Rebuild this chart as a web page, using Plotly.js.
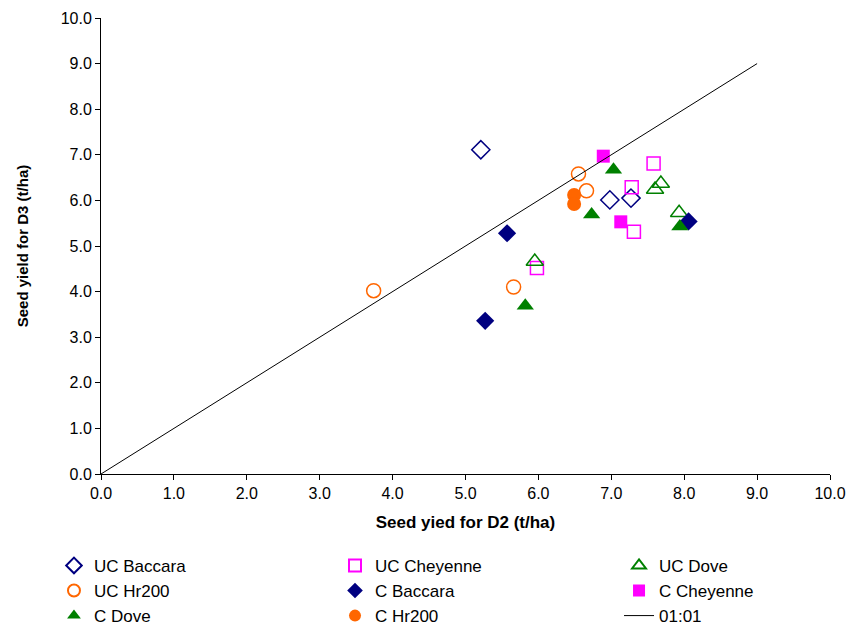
<!DOCTYPE html>
<html>
<head>
<meta charset="utf-8">
<script src="https://cdn.plot.ly/plotly-3.0.1.min.js"></script>
<style>html,body{margin:0;padding:0;background:#fff;}#chart{width:853px;height:626px;}</style>
</head>
<body>
<div id="chart"></div>
<script>
// Data (D2 yield, D3 yield in t/ha)
const ucBaccaraX = [5.21, 6.98, 7.27];
const ucBaccaraY = [7.11, 6.01, 6.05];
const ucCheyenneX = [7.58, 7.28, 7.31, 5.98];
const ucCheyenneY = [6.81, 6.29, 5.31, 4.52];
const ucDoveX = [7.68, 7.60, 7.93, 5.95];
const ucDoveY = [6.37, 6.24, 5.73, 4.66];
const ucHr200X = [3.74, 5.66, 6.55, 6.66];
const ucHr200Y = [4.02, 4.10, 6.58, 6.21];
const cBaccaraX = [5.57, 5.27, 8.06];
const cBaccaraY = [5.28, 3.36, 5.54];
const cCheyenneX = [6.89, 7.13];
const cCheyenneY = [6.97, 5.53];
const cDoveX = [7.03, 6.73, 7.94, 5.82];
const cDoveY = [6.67, 5.69, 5.43, 3.69];
const cHr200X = [6.49, 6.49];
const cHr200Y = [6.12, 5.92];
const lineX = [0, 9];
const lineY = [0, 9];
const tickVals = [0,1,2,3,4,5,6,7,8,9,10];
const tickText = ["0.0","1.0","2.0","3.0","4.0","5.0","6.0","7.0","8.0","9.0","10.0"];

const navy = '#000080', magenta = '#FF00FF', green = '#008000', orange = '#FF6600';

function mk(name, x, y, symbol, color, open, legend, size) {
  return {
    type: 'scatter', mode: 'markers', name: name, x: x, y: y, legend: legend,
    marker: open
      ? {symbol: symbol + '-open', size: size || 13, color: color, line: {color: color, width: 1.5}}
      : {symbol: symbol, size: size || 13, color: color, line: {width: 0}},
    hoverinfo: 'x+y+name'
  };
}

const traces = [
  mk('UC Baccara', ucBaccaraX, ucBaccaraY, 'diamond', navy, true, 'legend', 14),
  mk('UC Cheyenne', ucCheyenneX, ucCheyenneY, 'square', magenta, true, 'legend2'),
  mk('UC Dove', ucDoveX, ucDoveY, 'triangle-up', green, true, 'legend3', 15),
  mk('UC Hr200', ucHr200X, ucHr200Y, 'circle', orange, true, 'legend', 14),
  mk('C Baccara', cBaccaraX, cBaccaraY, 'diamond', navy, false, 'legend2', 14),
  mk('C Cheyenne', cCheyenneX, cCheyenneY, 'square', magenta, false, 'legend3'),
  mk('C Dove', cDoveX, cDoveY, 'triangle-up', green, false, 'legend', 15),
  mk('C Hr200', cHr200X, cHr200Y, 'circle', orange, false, 'legend2', 14),
  {type:'scatter', mode:'lines', name:'01:01', x: lineX, y: lineY, legend:'legend4',
   line:{color:'#000', width:1}, hoverinfo:'skip'}
];

const legFont = {family: 'Liberation Sans, Arial, sans-serif', size: 17, color: '#000'};
function leg(x, y, sizing) {
  return {x: x, y: y, xanchor: 'left', yanchor: 'top', orientation: 'v',
    font: legFont, bgcolor: 'rgba(0,0,0,0)', borderwidth: 0, tracegroupgap: 0,
    traceorder: 'normal', itemsizing: sizing};
}

const layout = {
  width: 853, height: 626,
  margin: {l: 101, r: 23, t: 18, b: 152, autoexpand: false},
  paper_bgcolor: '#fff', plot_bgcolor: '#fff',
  font: {family: 'Liberation Sans, Arial, sans-serif', size: 16, color: '#000'},
  showlegend: true,
  xaxis: {
    range: [0, 10], tickvals: tickVals, ticktext: tickText,
    showgrid: false, zeroline: false, showline: true, linecolor: '#000', linewidth: 1,
    ticks: 'outside', ticklen: 5, tickcolor: '#000', mirror: false,
    tickfont: {size: 16},
    title: {text: '<b>Seed yied for D2 (t/ha)</b>', font: {size: 17}, standoff: 14},
    automargin: false, fixedrange: true
  },
  yaxis: {
    range: [0, 10], tickvals: tickVals, ticktext: tickText,
    showgrid: false, zeroline: false, showline: true, linecolor: '#000', linewidth: 1,
    ticks: 'outside', ticklen: 5, tickcolor: '#000', mirror: false,
    tickfont: {size: 16},
    title: {text: '<b>Seed yield for D3 (t/ha)</b>', font: {size: 15}, standoff: 28},
    automargin: false, fixedrange: true
  },
  legend: leg(-0.0645, -0.162, 'constant'),
  legend2: leg(0.321, -0.162, 'constant'),
  legend3: leg(0.7106, -0.162, 'constant'),
  legend4: leg(0.7106, -0.272, 'trace')
};

Plotly.newPlot('chart', traces, layout, {displayModeBar: false, staticPlot: true});
</script>
</body>
</html>
